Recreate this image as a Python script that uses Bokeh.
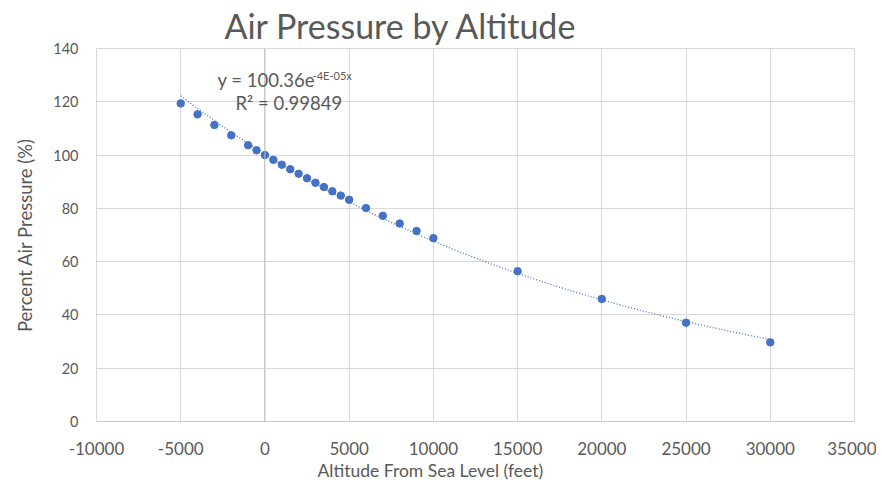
import numpy as np
from bokeh.plotting import figure
from bokeh.models import Label, Span, Title, SingleIntervalTicker, Range1d
from bokeh.embed import file_html
from bokeh.resources import INLINE

# ---- data ----
altitude_ft = [-5000, -4000, -3000, -2000, -1000, -500, 0, 500, 1000, 1500, 2000,
               2500, 3000, 3500, 4000, 4500, 5000, 6000, 7000, 8000, 9000, 10000,
               15000, 20000, 25000, 30000]
pressure_pct = [119.4, 115.3, 111.3, 107.4, 103.7, 101.8, 100.0, 98.2, 96.4, 94.7, 93.0,
                91.3, 89.6, 88.0, 86.4, 84.8, 83.2, 80.1, 77.2, 74.3, 71.5, 68.8,
                56.4, 46.0, 37.1, 29.7]
x_ticks = [-10000, -5000, 0, 5000, 10000, 15000, 20000, 25000, 30000, 35000]
title_text = "Air Pressure by Altitude"
x_title = "Altitude From Sea Level (feet)"
y_title = "Percent Air Pressure (%)"
eq_main = "y = 100.36e"
eq_sup = "-4E-05x"
eq_r2 = "R\u00b2 = 0.99849"

BLUE = "#4472C4"
GREY = "#595959"
GRID = "#D9D9D9"
FONT = "Lato"

# exponential trendline fitted from the data (as Excel does)
xs = np.array(altitude_ft, dtype=float)
ys = np.array(pressure_pct, dtype=float)
b, ln_a = np.polyfit(xs, np.log(ys), 1)
fit_x = np.linspace(xs.min(), xs.max(), 300)
fit_y = np.exp(ln_a) * np.exp(b * fit_x)

p = figure(width=876, height=481, output_backend="svg", toolbar_location=None,
           x_range=Range1d(-10000, 35000), y_range=Range1d(0, 140),
           min_border_left=96, min_border_right=22, min_border_top=44, min_border_bottom=60)

p.title.text = title_text
p.title.text_font = FONT
p.title.text_font_size = "34px"
p.title.text_font_style = "normal"
p.title.text_color = GREY
p.title.align = "left"
p.title.offset = 128
p.title.standoff = 5

p.outline_line_color = GRID
p.background_fill_color = "white"
p.border_fill_color = "white"

p.xaxis.ticker = x_ticks
p.yaxis.ticker = SingleIntervalTicker(interval=20)
p.xaxis.major_label_overrides = {t: str(t) for t in x_ticks}
for ax in (p.xaxis, p.yaxis):
    ax.axis_line_color = None
    ax.major_tick_line_color = None
    ax.minor_tick_line_color = None
    ax.major_tick_out = 0
    ax.major_tick_in = 0
    ax.major_label_text_font = FONT
    ax.major_label_text_color = GREY
p.xaxis.major_label_text_font_size = "17px"
p.yaxis.major_label_text_font_size = "14.5px"
p.xaxis.major_label_standoff = 20
p.yaxis.major_label_standoff = 14

p.yaxis.axis_label = y_title
p.yaxis.axis_label_text_font = FONT
p.yaxis.axis_label_text_font_size = "18.5px"
p.yaxis.axis_label_text_font_style = "normal"
p.yaxis.axis_label_text_color = GREY
p.yaxis.axis_label_standoff = 14

xt = Title(text=x_title, align="left", offset=221, standoff=0,
           text_font=FONT, text_font_size="17.5px", text_font_style="normal", text_color=GREY)
p.add_layout(xt, "below")

p.grid.grid_line_color = GRID
p.grid.grid_line_width = 1

p.add_layout(Span(location=0, dimension="height", line_color="#BFBFBF", line_width=1))
p.add_layout(Span(location=0, dimension="width", line_color="#BFBFBF", line_width=1))

p.line(fit_x, fit_y, line_color=BLUE, line_width=1.3, line_dash="1 2")
p.scatter(altitude_ft, pressure_pct, size=7.5, fill_color=BLUE, line_color=BLUE)

p.add_layout(Label(x=-2815, y=128.3, text=eq_main, text_font=FONT, text_font_size="18.5px",
                   text_color=GREY, text_baseline="middle"))
p.add_layout(Label(x=2830, y=129.8, text=eq_sup, text_font=FONT, text_font_size="11px",
                   text_color=GREY, text_baseline="middle"))
p.add_layout(Label(x=-1746, y=119.4, text=eq_r2, text_font=FONT, text_font_size="18.5px",
                   text_color=GREY, text_baseline="middle"))

open("out.html", "w").write(file_html(p, INLINE))
